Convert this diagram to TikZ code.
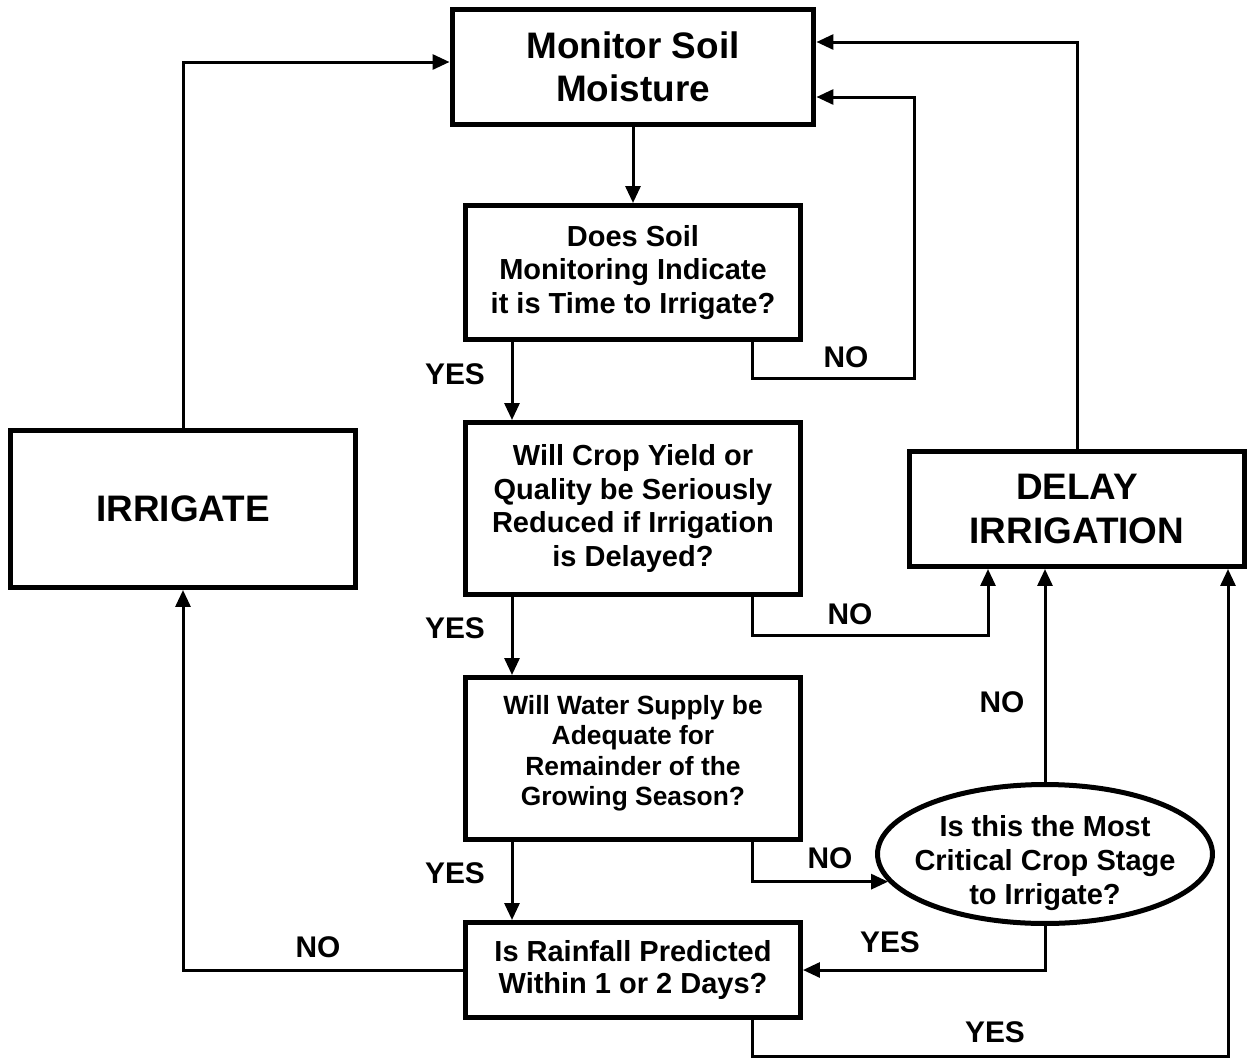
\documentclass[tikz,border=0pt]{standalone}
\usepackage{fontspec}
\setmainfont{Liberation Sans}
\usetikzlibrary{shapes,arrows.meta,positioning,calc}

\begin{document}
\begin{tikzpicture}[
      x=0.02cm, y=-0.02cm,
      block/.style={rectangle, draw, line width=0.1cm, align=center, inner sep=0pt, minimum width=6.7cm, font=\fontsize{16.5}{19.3}\selectfont\bfseries},
      bigblock/.style={block, font=\fontsize{21}{24.5}\selectfont\bfseries},
      decision/.style={ellipse, draw, line width=0.1cm, align=center, inner sep=-1cm, minimum width=6.7cm, minimum height=2.78cm, font=\fontsize{16.5}{19.3}\selectfont\bfseries},
      answer/.style={font=\fontsize{17}{19}\selectfont\bfseries},
      arrow/.style={-{Triangle[width=0.3cm,length=0.34cm]}, line width=0.06cm}
    ]
      \useasboundingbox (0,0) rectangle (1249,1059);

      % Main column
      \node[bigblock, minimum width=7.24cm, minimum height=2.3cm] (monitor) at (633,67) {Monitor Soil\\Moisture};
      \node[block, minimum height=2.68cm] (soil) at (633,272.5) {Does Soil\\Monitoring Indicate\\it is Time to Irrigate?};
      \node[block, minimum height=3.44cm] (yield) at (633,508.5) {Will Crop Yield or\\Quality be Seriously\\Reduced if Irrigation\\is Delayed?};
      \node[block, minimum height=3.24cm, font=\fontsize{15}{17.2}\selectfont\bfseries] (water) at (633,758.5) {Will Water Supply be\\Adequate for\\Remainder of the\\Growing Season?\\[-8pt]};
      \node[block, minimum height=1.9cm, font=\fontsize{16.5}{18.2}\selectfont\bfseries] (rain) at (633,970) {Is Rainfall Predicted\\Within 1 or 2 Days?};

      % Sides
      \node[bigblock, minimum width=6.9cm, minimum height=3.14cm] (irrigate) at (183,509) {IRRIGATE};
      \node[bigblock, minimum height=2.3cm] (delay) at (1077,509) {DELAY\\IRRIGATION};
      \node[decision] (stage) at (1045,854) {\rule{0pt}{22pt}Is this the Most\\Critical Crop Stage\\to Irrigate?};

      % Answers
      \node[answer] (yes1) at (455,374) {YES};
      \node[answer] (no1) at (846,357) {NO};
      \node[answer] (yes2) at (455,628) {YES};
      \node[answer] (no2) at (850,614) {NO};
      \node[answer] (yes3) at (455,873) {YES};
      \node[answer] (no3) at (830,858) {NO};
      \node[answer] (no4) at (318,947) {NO};
      \node[answer] (yes4) at (890,942) {YES};
      \node[answer] (yes5) at (995,1032) {YES};
      \node[answer] (no5) at (1002,702) {NO};

      % Arrows
      \draw[arrow] (monitor) -- (soil);
      \draw[arrow] (soil.south -| 512,0) -- (yield.north -| 512,0);
      \draw[arrow] (soil.south -| 752,0) |- (914,378) |- (monitor.east |- 0,97);
      \draw[arrow] (yield.south -| 512,0) -- (water.north -| 512,0);
      \draw[arrow] (yield.south -| 752,0) -- ++(0,39) -| (delay.south -| 988,0);
      \draw[arrow] (water.south -| 512,0) -- (rain.north -| 512,0);
      \draw[arrow] (water.south -| 752,0) |- (stage.190);
      \draw[arrow] (stage.south) |- (rain.east);
      \draw[arrow] (stage.north) -- (stage.north |- delay.south);
      \draw[arrow] (rain.south -| 752,0) -- ++(0,36) -| (delay.south -| 1228,0);
      \draw[arrow] (rain.west) -| (irrigate.south);
      \draw[arrow] (irrigate.north) |- (monitor.west |- 0,62);
      \draw[arrow] (delay.north) |- (monitor.east |- 0,42);
    \end{tikzpicture}
\end{document}
